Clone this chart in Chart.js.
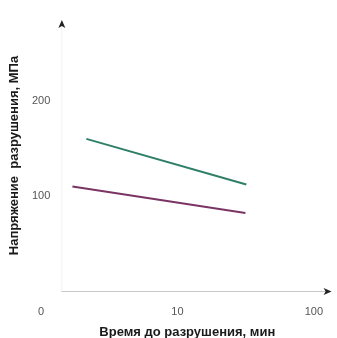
<!DOCTYPE html>
<html>
<head>
<meta charset="utf-8">
<script src="https://cdn.jsdelivr.net/npm/chart.js@4/dist/chart.umd.min.js"></script>
<style>
    html, body { margin: 0; padding: 0; background: #fff; }
    #wrap { width: 337px; height: 338px; }
</style>
</head>
<body>
<div id="wrap"><canvas id="chart"></canvas></div>
<script>
// время до разрушения, мин (ось в логарифмах)
const upperTime = [2.15, 32];
const upperStress = [160, 112];
const lowerTime = [1.7, 31.5];
const lowerStress = [110, 82];

const xTickValues = [1, 10, 100];
const xTickLabels = ['0', '10', '100'];
const yTickValues = [100, 200];

const xTitle = 'Время до разрушения, мин';
const yTitle = 'Напряжение  разрушения, МПа';

function toPoints(xs, ys) {
    return xs.map((x, i) => ({ x: x, y: ys[i] }));
}

// оси со стрелками
const arrowAxes = {
    id: 'arrowAxes',
    afterDraw(chart) {
        const ctx = chart.ctx;
        const xs = chart.scales.x;
        const ys = chart.scales.y;
        const x0 = xs.getPixelForValue(1.41);
        const y0 = ys.getPixelForValue(0);
        const xEnd = chart.chartArea.right - 4;
        const yEnd = ys.getPixelForValue(283);
        ctx.save();
        ctx.lineWidth = 1;
        ctx.strokeStyle = '#c8c8c8';
        ctx.beginPath();
        ctx.moveTo(x0, y0 + 0.5);
        ctx.lineTo(xEnd - 4, y0 + 0.5);
        ctx.stroke();
        ctx.strokeStyle = '#f2f2f2';
        ctx.beginPath();
        ctx.moveTo(x0 + 0.5, y0);
        ctx.lineTo(x0 + 0.5, yEnd + 4);
        ctx.stroke();
        ctx.fillStyle = '#222';
        ctx.beginPath();
        ctx.moveTo(xEnd + 2, y0 + 0.5);
        ctx.lineTo(xEnd - 6, y0 - 3);
        ctx.lineTo(xEnd - 4, y0 + 0.5);
        ctx.lineTo(xEnd - 6, y0 + 4);
        ctx.closePath();
        ctx.fill();
        ctx.beginPath();
        ctx.moveTo(x0 + 0.5, yEnd - 2);
        ctx.lineTo(x0 - 3, yEnd + 6);
        ctx.lineTo(x0 + 0.5, yEnd + 4);
        ctx.lineTo(x0 + 4, yEnd + 6);
        ctx.closePath();
        ctx.fill();
        ctx.restore();
    }
};

const ctx = document.getElementById('chart').getContext('2d');

new Chart(ctx, {
    type: 'line',
    data: {
        datasets: [{
            label: 'upper',
            data: toPoints(upperTime, upperStress),
            borderColor: '#2f7f68',
            borderWidth: 2,
            pointRadius: 0,
            fill: false
        }, {
            label: 'lower',
            data: toPoints(lowerTime, lowerStress),
            borderColor: '#7a3464',
            borderWidth: 2,
            pointRadius: 0,
            fill: false
        }]
    },
    options: {
        responsive: true,
        maintainAspectRatio: false,
        animation: false,
        layout: {
            padding: { left: 3, right: 0, top: 20, bottom: 0 }
        },
        plugins: {
            legend: { display: false },
            tooltip: { enabled: false }
        },
        scales: {
            x: {
                type: 'logarithmic',
                min: 1,
                max: 139.6,
                border: { display: false },
                grid: { display: false, drawTicks: false },
                afterBuildTicks: scale => {
                    scale.ticks = xTickValues.map(v => ({ value: v }));
                },
                afterFit: scale => {
                    scale.height = 47;
                },
                ticks: {
                    padding: 14,
                    maxRotation: 0,
                    autoSkip: false,
                    color: '#555',
                    font: { family: 'Liberation Sans, Arial', size: 11 },
                    callback: (value) => {
                        const i = xTickValues.indexOf(value);
                        return i >= 0 ? xTickLabels[i] : '';
                    }
                },
                title: {
                    display: true,
                    text: xTitle,
                    color: '#1a1a1a',
                    padding: { top: 7.8, bottom: -1 },
                    font: { family: 'Liberation Sans, Arial', size: 13, weight: 'bold', lineHeight: 1 }
                }
            },
            y: {
                type: 'linear',
                min: 0,
                max: 285,
                border: { display: false },
                grid: { display: false, drawTicks: false },
                afterBuildTicks: scale => {
                    scale.ticks = yTickValues.map(v => ({ value: v }));
                },
                afterFit: scale => {
                    scale.width = 38;
                },
                ticks: {
                    mirror: true,
                    padding: -9,
                    color: '#555',
                    font: { family: 'Liberation Sans, Arial', size: 11 }
                },
                title: {
                    display: true,
                    text: yTitle,
                    color: '#1a1a1a',
                    padding: { top: 4, bottom: 4 },
                    font: { family: 'Liberation Sans, Arial', size: 13, weight: 'bold', lineHeight: 1.1 }
                }
            }
        }
    },
    plugins: [arrowAxes]
});
</script>
</body>
</html>
